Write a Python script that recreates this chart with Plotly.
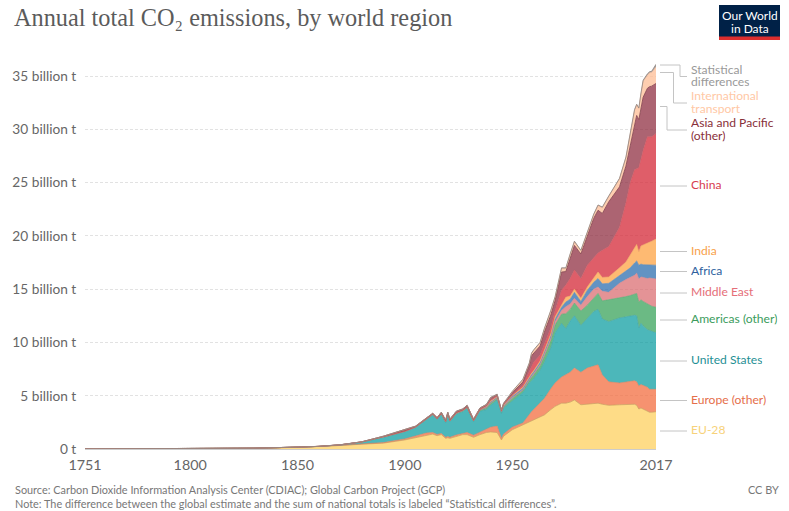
import plotly.graph_objects as go

years = [1751,1800,1830,1850,1860,1870,1880,1890,1900,1905,1910,1913,1915,1917,1919,1920,1921,1924,1927,1929,1932,1935,1938,1940,1943,1945,1946,1950,1955,1958,1959,1960,1963,1965,1968,1970,1973,1975,1977,1979,1982,1985,1988,1990,1992,1995,2000,2003,2005,2007,2008,2009,2010,2011,2013,2014,2015,2017]

eu28 = [.008,.027,.07,.16,.22,.33,.45,.55,.85,1.08,1.3,1.4,1.25,1.35,1.0,1.05,1.0,1.2,1.35,1.35,1.1,1.35,1.55,1.6,1.55,.85,1.2,1.8,2.25,2.55,2.65,2.7,3.0,3.2,3.7,4.0,4.3,4.3,4.4,4.6,4.15,4.2,4.25,4.3,4.2,4.1,4.15,4.2,4.2,4.2,4.1,3.75,3.85,3.75,3.6,3.45,3.45,3.5]
europe_other = [0,.001,.002,.002,.005,.01,.03,.05,.10,.12,.2,.15,.12,.1,.1,.12,.1,.12,.12,.2,.2,.25,.3,.45,.6,.15,.2,.25,.2,.75,.85,1.0,1.3,1.55,1.95,2.2,2.45,2.65,2.8,3.0,3.05,3.4,3.55,3.6,2.75,2.2,2.05,2.1,2.15,2.2,2.2,2.15,2.2,2.2,2.2,2.15,2.15,2.1]
united_states = [0,.001,.006,.013,.015,.04,.17,.5,.65,.8,1.3,1.65,1.4,1.8,1.4,2.05,1.45,1.95,2.03,2.25,1.25,1.95,1.85,2.05,2.45,2.35,2.45,2.45,2.85,2.9,2.9,2.9,3.1,3.4,3.85,4.7,5.05,4.35,4.8,4.9,4.4,4.7,5.1,5.2,5.25,5.65,6.1,6.1,6.15,6.15,6.2,5.45,5.75,5.6,5.4,5.55,5.45,5.3]
americas_other = [0,0,0,.002,.004,.008,.01,.03,.05,.04,.03,.04,.04,.05,.05,.07,.08,.09,.09,.1,.08,.1,.15,.2,.15,.1,.1,.25,.2,.3,.33,.35,.4,.55,.65,.75,.85,1.4,1.1,1.2,1.35,1.2,1.25,1.5,1.7,2.05,1.85,1.9,1.9,1.95,2.1,2.45,2.2,2.3,2.4,2.35,2.35,2.4]
middle_east = [0,0,0,0,0,0,0,0,.001,.002,.002,.002,.002,.002,.002,.002,.003,.003,.004,.005,.005,.01,.02,.03,.03,.02,.03,.05,.05,.1,.1,.12,.13,.2,.25,.3,.35,.65,.5,.45,.55,.8,.85,.6,.9,.7,1.4,1.6,1.7,1.8,1.9,2.15,2.15,2.25,2.4,2.55,2.6,2.65]
africa = [0,0,0,0,0,.001,.002,.005,.01,.012,.015,.015,.015,.015,.015,.015,.015,.02,.02,.02,.02,.03,.06,.07,.07,.05,.07,.12,.15,.15,.15,.15,.18,.2,.22,.25,.3,.45,.45,.55,.35,.6,.65,.8,.7,.85,.75,.85,.9,1.15,1.15,1.3,1.2,1.2,1.3,1.25,1.25,1.3]
india = [0,0,0,0,0,.001,.003,.008,.015,.02,.02,.02,.02,.02,.02,.02,.02,.02,.02,.02,.02,.02,.07,.1,.07,.05,.07,.08,.1,.1,.12,.13,.15,.17,.2,.2,.2,.45,.3,.3,.3,.3,.4,.6,.6,.6,.7,.8,1.2,1.35,1.55,1.25,1.7,1.85,2,2.15,2.25,2.45]
china = [0,0,0,0,0,0,0,0,.001,.001,.002,.003,.003,.003,.003,.003,.003,.005,.005,.005,.005,.01,.03,.07,.05,.03,.05,.05,.2,.45,.7,.8,.55,.5,.55,.6,1.4,1.15,1.65,1.8,1.85,2.05,1.95,1.8,2.55,2.85,3.8,5.55,6.8,7.4,7.1,7.9,8.15,8.85,10,9.85,9.8,9.9]
asia_pacific = [0,0,0,.003,.006,.01,.015,.057,.12,.07,.033,.07,.1,.11,.11,.12,.13,.14,.12,.15,.12,.13,.12,.23,.13,.05,.1,.2,.3,.6,.95,.85,.85,1.2,1.2,.95,1.7,1.25,1.9,2.3,2.3,2.8,3.65,4.0,3.45,4.2,3.8,3.45,3.5,4.4,5,4.5,4.9,5,4.55,4.7,4.75,4.7]
intl_transport = [0,0,0,0,0,0,0,0,0,0,0,0,0,0,0,0,0,0,0,0,0,0,.02,.02,.02,.01,.02,.1,.2,.15,.2,.25,.3,.3,.4,.3,.35,.3,.35,.35,.3,.3,.35,.45,.55,.5,.75,.8,1.0,1.15,1.0,1.05,1.2,1.5,1.25,1.3,1.3,1.55]
stat_diff = [0,0,0,0,0,0,0,0,0,0,0,0,0,0,0,0,0,0,0,0,0,0,.03,.03,.03,.02,.01,.05,.05,.05,.05,.05,.05,.05,.05,.05,.05,.05,.05,.05,.05,.05,.05,.05,.05,.05,.05,.05,.1,.1,.05,.05,.1,.1,.1,.1,.1,.25]

y_tickvals = [0, 5, 10, 15, 20, 25, 30, 35]
y_ticktext = ["0 t", "5 billion t", "10 billion t", "15 billion t", "20 billion t", "25 billion t", "30 billion t", "35 billion t"]
x_tickvals = [1751, 1800, 1850, 1900, 1950, 2017]

series = [
    ("EU-28", eu28, "rgba(254,208,95,0.75)", "#c9a05a", 0.7),
    ("Europe (other)", europe_other, "rgba(243,110,64,0.75)", "#e0805c", 0.6),
    ("United States", united_states, "rgba(0,152,156,0.70)", "#3ca3a8", 0.6),
    ("Americas (other)", americas_other, "rgba(50,160,85,0.72)", "#5aa873", 0.6),
    ("Middle East", middle_east, "rgba(217,105,110,0.72)", "#d8878a", 0.6),
    ("Africa", africa, "rgba(38,105,172,0.72)", "#5a8cba", 0.6),
    ("India", india, "rgba(254,160,60,0.72)", "#f0aa60", 0.6),
    ("China", china, "rgba(212,40,55,0.75)", "#cc5560", 0.6),
    ("Asia and Pacific (other)", asia_pacific, "rgba(140,40,60,0.72)", "#8a4a55", 0.9),
    ("International transport", intl_transport, "rgba(253,190,150,0.75)", "#e8b090", 0.6),
    ("Statistical differences", stat_diff, "rgba(120,120,120,0.7)", "#8f8480", 0.8),
]

L, R, T, B = 85, 656, 62, 449
W, H = 789, 511
def px(x): return (x - L) / (R - L)
def py(y): return (B - y) / (B - T)

fig = go.Figure()
for name, vals, fill, line, lw in series:
    assert len(vals) == len(years), name
    fig.add_trace(go.Scatter(x=years, y=vals, name=name, mode="lines", stackgroup="one", cliponaxis=False,
                             fillcolor=fill, line=dict(color=line, width=lw), hoverinfo="skip"))

FONT = "Lato, Noto Sans, sans-serif"
labels = [
    (69.5, "Statistical", "#999999"), (82.5, "differences", "#999999"),
    (96, "International", "#ffc8a5"), (109, "transport", "#ffc8a5"),
    (123, "Asia and Pacific", "#883039"), (136, "(other)", "#883039"),
    (185, "China", "#d73c50"), (251, "India", "#f8a14a"), (271, "Africa", "#2d5f9e"),
    (292, "Middle East", "#e56e78"), (319, "Americas (other)", "#3a9c5c"),
    (360, "United States", "#1f8f95"), (399.5, "Europe (other)", "#e56e4a"), (430, "EU-28", "#f7d27a"),
]
ann = []
def text(x, y, s, size, color, anchor="left", family=FONT, height=None):
    ann.append(dict(xref="paper", yref="paper", x=px(x), y=py(y), text=s, showarrow=False,
                    xanchor=anchor, yanchor="middle", align=anchor, height=height,
                    font=dict(family=family, size=size, color=color), borderpad=0, borderwidth=0))
for y, s, c in labels:
    text(691, y, s, 12.1, c, height=11.5)
text(14, 17, "Annual total CO₂ emissions, by world region", 24.3, "#5b5b5b", family="Liberation Serif, serif")
text(14.5, 490, "Source: Carbon Dioxide Information Analysis Center (CDIAC); Global Carbon Project (GCP)", 10.9, "#777777")
text(14.5, 503, "Note: The difference between the global estimate and the sum of national totals is labeled “Statistical differences”.", 10.9, "#777777")
text(779, 490, "CC BY", 10.9, "#777777", anchor="right")
text(749.5, 15, "Our World", 12, "#ffffff", anchor="center", height=12)
text(749.5, 28.5, "in Data", 12, "#ffffff", anchor="center", height=12)

shapes = [
    dict(type="rect", xref="paper", yref="paper", x0=px(719), x1=px(780), y0=py(5), y1=py(40),
         fillcolor="#002147", line=dict(width=0), layer="below"),
    dict(type="rect", xref="paper", yref="paper", x0=px(719), x1=px(780), y0=py(36.5), y1=py(40),
         fillcolor="#dc2e2e", line=dict(width=0), layer="above"),
]
connectors = [
    [(660, 65), (680, 65), (680, 76.5), (687, 76.5)],
    [(660, 72.5), (673.5, 72.5), (673.5, 103), (687, 103)],
    [(660, 106.5), (667, 106.5), (667, 130), (687, 130)],
    [(660, 186), (687, 186)], [(660, 251.5), (687, 251.5)], [(660, 271.5), (687, 271.5)],
    [(660, 293), (687, 293)], [(660, 320), (687, 320)], [(660, 361), (687, 361)],
    [(660, 400.5), (687, 400.5)], [(660, 431), (687, 431)],
]
for pts in connectors:
    for (a, b), (c, d) in zip(pts, pts[1:]):
        shapes.append(dict(type="line", xref="paper", yref="paper", x0=px(a), x1=px(c), y0=py(b), y1=py(d),
                           line=dict(color="#c4c4c4", width=1)))

fig.update_layout(
    width=W, height=H, autosize=False, showlegend=False,
    margin=dict(l=L, r=W - R, t=T, b=H - B, pad=0),
    paper_bgcolor="white", plot_bgcolor="white",
    annotations=ann, shapes=shapes,
    font=dict(family=FONT, color="#666666"),
    xaxis=dict(range=[1751, 2017], tickmode="array", tickvals=x_tickvals, showgrid=False, zeroline=False,
               showline=True, linecolor="#cccccc", linewidth=1, ticks="outside", ticklen=3, tickcolor="rgba(0,0,0,0)",
               tickfont=dict(size=14.3, color="#666666")),
    yaxis=dict(range=[0, (B - T) / 10.657], tickmode="array", tickvals=y_tickvals, ticktext=y_ticktext,
               showgrid=True, gridcolor="#e2e2e2", griddash="3px,2px", gridwidth=1, zeroline=False,
               ticks="outside", ticklen=5, tickcolor="rgba(0,0,0,0)", tickfont=dict(size=13.7, color="#666666")),
)
fig.write_html("out.html", config={"displayModeBar": False}, post_script="document.body.style.margin='0';document.documentElement.style.overflow='hidden';")
